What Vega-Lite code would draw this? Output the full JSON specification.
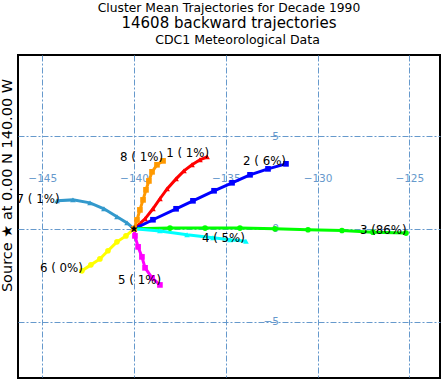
{
  "$schema": "https://vega.github.io/schema/vega-lite/v6.json",
  "width": 422,
  "height": 323,
  "autosize": "none",
  "padding": {"left": 18, "top": 55, "right": 1, "bottom": 2},
  "background": "white",
  "config": {
    "view": {"stroke": "black", "strokeWidth": 2},
    "font": "DejaVu Sans"
  },
  "title": {
    "text": "Cluster Mean Trajectories for Decade 1990",
    "subtitle": "14608 backward trajectories",
    "font": "DejaVu Sans",
    "subtitleFont": "DejaVu Sans",
    "fontSize": 12.3,
    "subtitleFontSize": 15,
    "fontWeight": "normal",
    "color": "black",
    "subtitleColor": "black",
    "anchor": "middle",
    "frame": "group",
    "subtitlePadding": 2,
    "offset": 2
  },
  "datasets": {
    "traj": [
      {"c": "1", "s": 0, "lon": -140.0, "lat": 0.0},
      {"c": "1", "s": 1, "lon": -139.40, "lat": 0.54},
      {"c": "1", "s": 2, "lon": -138.97, "lat": 1.08},
      {"c": "1", "s": 3, "lon": -138.59, "lat": 1.62},
      {"c": "1", "s": 4, "lon": -138.20, "lat": 2.15},
      {"c": "1", "s": 5, "lon": -137.71, "lat": 2.69},
      {"c": "1", "s": 6, "lon": -137.28, "lat": 3.12},
      {"c": "1", "s": 7, "lon": -136.84, "lat": 3.45},
      {"c": "1", "s": 8, "lon": -136.41, "lat": 3.72},
      {"c": "1", "s": 9, "lon": -136.02, "lat": 3.88},
      {"c": "2", "s": 0, "lon": -140.0, "lat": 0.0},
      {"c": "2", "s": 1, "lon": -138.97, "lat": 0.49},
      {"c": "2", "s": 2, "lon": -137.71, "lat": 1.08},
      {"c": "2", "s": 3, "lon": -136.79, "lat": 1.51},
      {"c": "2", "s": 4, "lon": -135.64, "lat": 2.05},
      {"c": "2", "s": 5, "lon": -134.66, "lat": 2.48},
      {"c": "2", "s": 6, "lon": -133.68, "lat": 2.91},
      {"c": "2", "s": 7, "lon": -132.70, "lat": 3.23},
      {"c": "2", "s": 8, "lon": -131.72, "lat": 3.50},
      {"c": "3", "s": 0, "lon": -140.0, "lat": 0.0},
      {"c": "3", "s": 1, "lon": -138.04, "lat": 0.04},
      {"c": "3", "s": 2, "lon": -136.13, "lat": 0.04},
      {"c": "3", "s": 3, "lon": -134.23, "lat": 0.04},
      {"c": "3", "s": 4, "lon": -132.32, "lat": 0.0},
      {"c": "3", "s": 5, "lon": -130.52, "lat": -0.05},
      {"c": "3", "s": 6, "lon": -128.67, "lat": -0.09},
      {"c": "3", "s": 7, "lon": -126.98, "lat": -0.18},
      {"c": "3", "s": 8, "lon": -125.18, "lat": -0.23},
      {"c": "4", "s": 0, "lon": -140.0, "lat": 0.0},
      {"c": "4", "s": 1, "lon": -138.59, "lat": -0.11},
      {"c": "4", "s": 2, "lon": -137.11, "lat": -0.32},
      {"c": "4", "s": 3, "lon": -135.70, "lat": -0.48},
      {"c": "4", "s": 4, "lon": -134.77, "lat": -0.59},
      {"c": "4", "s": 5, "lon": -133.90, "lat": -0.67},
      {"c": "5", "s": 0, "lon": -140.0, "lat": 0.0},
      {"c": "5", "s": 1, "lon": -139.95, "lat": -0.38},
      {"c": "5", "s": 2, "lon": -139.78, "lat": -0.97},
      {"c": "5", "s": 3, "lon": -139.57, "lat": -1.51},
      {"c": "5", "s": 4, "lon": -139.40, "lat": -2.10},
      {"c": "5", "s": 5, "lon": -139.02, "lat": -2.64},
      {"c": "5", "s": 6, "lon": -138.59, "lat": -3.02},
      {"c": "6", "s": 0, "lon": -140.0, "lat": 0.0},
      {"c": "6", "s": 1, "lon": -140.44, "lat": -0.38},
      {"c": "6", "s": 2, "lon": -140.93, "lat": -0.70},
      {"c": "6", "s": 3, "lon": -141.42, "lat": -1.18},
      {"c": "6", "s": 4, "lon": -141.86, "lat": -1.62},
      {"c": "6", "s": 5, "lon": -142.35, "lat": -1.94},
      {"c": "6", "s": 6, "lon": -142.84, "lat": -2.26},
      {"c": "7", "s": 0, "lon": -140.0, "lat": 0.0},
      {"c": "7", "s": 1, "lon": -140.38, "lat": 0.32},
      {"c": "7", "s": 2, "lon": -140.93, "lat": 0.65},
      {"c": "7", "s": 3, "lon": -141.64, "lat": 1.08},
      {"c": "7", "s": 4, "lon": -142.40, "lat": 1.40},
      {"c": "7", "s": 5, "lon": -143.33, "lat": 1.56},
      {"c": "7", "s": 6, "lon": -144.20, "lat": 1.51},
      {"c": "8", "s": 0, "lon": -140.0, "lat": 0.0},
      {"c": "8", "s": 1, "lon": -139.84, "lat": 0.48},
      {"c": "8", "s": 2, "lon": -139.68, "lat": 1.02},
      {"c": "8", "s": 3, "lon": -139.51, "lat": 1.56},
      {"c": "8", "s": 4, "lon": -139.35, "lat": 2.10},
      {"c": "8", "s": 5, "lon": -139.19, "lat": 2.58},
      {"c": "8", "s": 6, "lon": -139.02, "lat": 3.07},
      {"c": "8", "s": 7, "lon": -138.75, "lat": 3.45},
      {"c": "8", "s": 8, "lon": -138.42, "lat": 3.66}
    ],
    "labels": [
      {"c": "1", "text": "1 ( 1%)", "lon": -138.25, "lat": 4.09},
      {"c": "2", "text": "2 ( 6%)", "lon": -134.06, "lat": 3.66},
      {"c": "3", "text": "3 (86%)", "lon": -127.69, "lat": -0.05},
      {"c": "4", "text": "4 ( 5%)", "lon": -136.30, "lat": -0.48},
      {"c": "5", "text": "5 ( 1%)", "lon": -140.87, "lat": -2.75},
      {"c": "6", "text": "6 ( 0%)", "lon": -145.13, "lat": -2.10},
      {"c": "7", "text": "7 ( 1%)", "lon": -146.40, "lat": 1.62},
      {"c": "8", "text": "8 ( 1%)", "lon": -140.76, "lat": 3.88}
    ],
    "source": [
      {"lon": -140.0, "lat": 0.0}
    ]
  },
  "encoding": {
    "x": {
      "field": "lon", "type": "quantitative",
      "scale": {"domain": [-146.324, -123.327], "nice": false, "zero": false},
      "axis": {
        "values": [-145, -140, -135, -130, -125],
        "orient": "bottom", "offset": -200,
        "domain": false, "ticks": false, "tickSize": 0,
        "labelPadding": 0, "labelBaseline": "middle", "labelAlign": "center",
        "labelColor": "#6699CC", "labelFont": "DejaVu Sans", "labelFontSize": 10.5,
        "labelFlush": false, "labelOverlap": false,
        "grid": true, "gridColor": "#6699CC", "gridDash": [6, 2, 2, 2], "gridOpacity": 1, "gridWidth": 1,
        "title": "CDC1 Meteorological Data",
        "titleFont": "DejaVu Sans", "titleFontSize": 12.5, "titleFontWeight": "normal", "titleColor": "black",
        "titleX": 219, "titleY": -134.7, "titleBaseline": "alphabetic", "titleAlign": "center", "titleAnchor": null
      }
    },
    "y": {
      "field": "lat", "type": "quantitative",
      "scale": {"domain": [-8.032, 9.362], "nice": false, "zero": false},
      "axis": {
        "values": [-5, 0, 5],
        "orient": "left", "offset": -260.5,
        "domain": false, "ticks": false, "tickSize": 0,
        "labelPadding": 0, "labelBaseline": "middle", "labelAlign": "right",
        "labelColor": "#6699CC", "labelFont": "DejaVu Sans", "labelFontSize": 10.5,
        "labelFlush": false, "labelOverlap": false,
        "grid": true, "gridColor": "#6699CC", "gridDash": [6, 2, 2, 2], "gridOpacity": 1, "gridWidth": 1,
        "title": "Source ★ at  0.00 N 140.00 W",
        "titleFont": "DejaVu Sans", "titleFontSize": 14.5, "titleFontWeight": "normal", "titleColor": "black",
        "titleX": -267.5, "titleY": 130, "titleAngle": 270, "titleBaseline": "alphabetic", "titleAlign": "center"
      }
    }
  },
  "layer": [
    {
      "data": {"name": "traj"},
      "mark": {"type": "line", "strokeWidth": 3, "clip": true},
      "encoding": {
        "color": {
          "field": "c", "type": "nominal", "legend": null,
          "scale": {"domain": ["1","2","3","4","5","6","7","8"],
                    "range": ["#FF0000","#0000FF","#00FF00","#00FFFF","#FF00FF","#FFFF00","#3399CC","#FF9900"]}
        },
        "order": {"field": "s", "type": "quantitative"}
      }
    },
    {
      "data": {"name": "traj"},
      "mark": {"type": "point", "filled": true, "opacity": 1, "size": 32, "clip": true},
      "encoding": {
        "color": {"field": "c", "type": "nominal", "legend": null},
        "shape": {
          "field": "c", "type": "nominal", "legend": null,
          "scale": {"domain": ["1","2","3","4","5","6","7","8"],
                    "range": ["triangle-up","square","circle","triangle-up","square","circle","triangle-up","square"]}
        }
      }
    },
    {
      "data": {"name": "labels"},
      "mark": {"type": "text", "align": "left", "baseline": "middle", "font": "DejaVu Sans", "fontSize": 11.8, "color": "black"},
      "encoding": {
        "text": {"field": "text", "type": "nominal"}
      }
    },
    {
      "data": {"name": "source"},
      "mark": {
        "type": "point", "filled": true, "color": "black", "opacity": 1, "size": 70,
        "shape": "M0,-1L0.2245,-0.309L0.951,-0.309L0.363,0.118L0.588,0.809L0,0.382L-0.588,0.809L-0.363,0.118L-0.951,-0.309L-0.2245,-0.309Z"
      }
    }
  ]
}
